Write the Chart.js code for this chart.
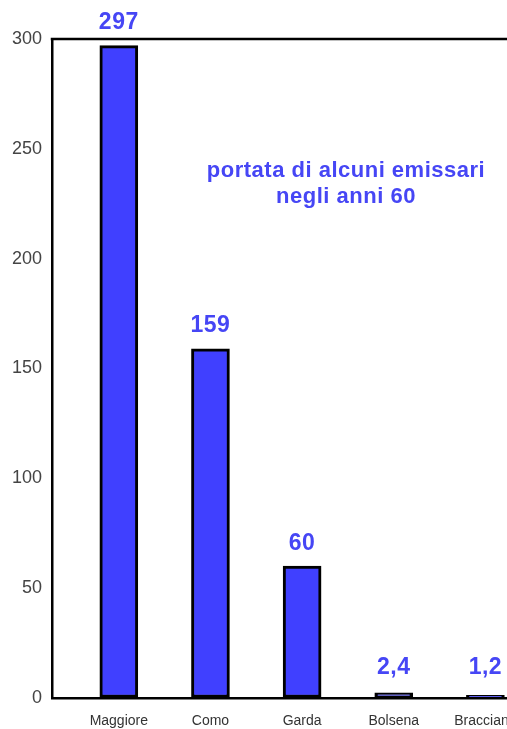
<!DOCTYPE html>
<html>
<head>
<meta charset="utf-8">
<script src="https://cdn.jsdelivr.net/npm/chart.js@4/dist/chart.umd.min.js"></script>
<style>
  html, body { margin: 0; padding: 0; background: #ffffff; overflow: hidden; width: 507px; height: 729px; }
  #wrap { position: relative; width: 560px; height: 729px; }
</style>
</head>
<body>
<div id="wrap"><canvas id="c"></canvas></div>
<script>
const categories = ['Maggiore', 'Como', 'Garda', 'Bolsena', 'Bracciano'];
const portata = [297, 159, 60, 2.4, 1.2];
const valueLabels = ['297', '159', '60', '2,4', '1,2'];
const yTicks = [0, 50, 100, 150, 200, 250, 300];
const titleLines = ['portata di alcuni emissari', 'negli anni 60'];

const BLUE_TEXT = '#4646f5';
const BAR_FILL = '#4040ff';

const frameTop = {
  id: 'frameTop',
  afterDatasetsDraw(chart) {
    const {ctx, chartArea} = chart;
    ctx.save();
    ctx.strokeStyle = '#000';
    ctx.lineWidth = 2.5;
    ctx.beginPath();
    ctx.moveTo(chartArea.left - 1.25, chartArea.top);
    ctx.lineTo(chartArea.right + 2, chartArea.top);
    ctx.stroke();
    ctx.restore();
  }
};

const labelsPlugin = {
  id: 'valueLabels',
  afterDatasetsDraw(chart) {
    const {ctx, chartArea} = chart;
    const meta = chart.getDatasetMeta(0);
    const zeroY = chart.scales.y.getPixelForValue(0);
    ctx.save();
    ctx.fillStyle = BLUE_TEXT;
    ctx.font = 'bold 23px "Liberation Sans", Arial, sans-serif';
    ctx.letterSpacing = '0.5px';
    ctx.textAlign = 'center';
    ctx.textBaseline = 'middle';
    meta.data.forEach((bar, i) => {
      const y = Math.min(bar.y - 23, zeroY - 30);
      ctx.fillText(valueLabels[i], bar.x, y);
    });
    // title text inside plot
    ctx.font = 'bold 22px "Liberation Sans", Arial, sans-serif';
    ctx.letterSpacing = '0.5px';
    const cx = chartArea.left + 294;
    ctx.fillText(titleLines[0], cx, chartArea.top + 132);
    ctx.fillText(titleLines[1], cx, chartArea.top + 158);
    ctx.restore();
  }
};

new Chart(document.getElementById('c'), {
  type: 'bar',
  data: {
    datasets: [{
      data: portata.map((v, i) => ({x: i, y: v})),
      backgroundColor: BAR_FILL,
      borderColor: '#000000',
      borderWidth: 3,
      borderSkipped: false,
      barThickness: 38
    }]
  },
  options: {
    responsive: true,
    maintainAspectRatio: false,
    animation: false,
    layout: { padding: { top: 39, right: 0, left: 0, bottom: 0 } },
    plugins: {
      legend: { display: false },
      tooltip: { enabled: false },
      title: { display: false }
    },
    scales: {
      x: {
        type: 'linear',
        offset: false,
        min: -0.729,
        max: 4.814,
        grid: { display: true, color: 'transparent', drawTicks: false, offset: false },
        border: { display: true, color: '#000', width: 2.5 },
        afterBuildTicks(scale) {
          scale.ticks = categories.map((c, i) => ({value: i}));
        },
        afterFit(scale) { scale.height = 31; },
        ticks: {
          autoSkip: false,
          maxRotation: 0,
          padding: 15,
          color: '#333333',
          font: { family: '"Liberation Sans", Arial, sans-serif', size: 14 },
          callback: (v) => categories[Math.round(v)] ?? ''
        }
      },
      y: {
        min: 0,
        max: 300,
        grid: { display: true, color: 'transparent', drawTicks: false },
        border: { display: true, color: '#000', width: 2.5 },
        afterBuildTicks(scale) {
          scale.ticks = yTicks.map(v => ({value: v}));
        },
        afterFit(scale) { scale.width = 52; },
        ticks: {
          padding: 10,
          color: '#444444',
          font: { family: '"Liberation Sans", Arial, sans-serif', size: 18 }
        }
      }
    }
  },
  plugins: [frameTop, labelsPlugin]
});
</script>
</body>
</html>
